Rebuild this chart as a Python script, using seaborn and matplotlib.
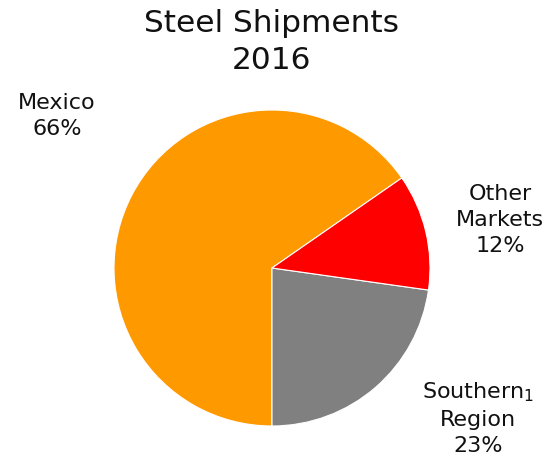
import matplotlib
matplotlib.use("Agg")
import matplotlib.pyplot as plt
import seaborn as sns

regions = ["Mexico", "Southern$_1$\nRegion", "Other\nMarkets"]
shares = [66, 23, 12]
share_labels = ["66%", "23%", "12%"]
colors = ["#FF9900", "#808080", "#FF0000"]

sns.set_theme(style="white")
plt.rcParams["font.family"] = ["DejaVu Sans"]

fig = plt.figure(figsize=(5.56, 4.59), dpi=100)
W, H = 556, 459
cx, cy, r = 272, 268, 158
ax = fig.add_axes([(cx - r) / W, (H - cy - r) / H, 2 * r / W, 2 * r / H])

mexico_angle = 360 * shares[0] / sum(shares)
wedges, _ = ax.pie(
    shares,
    colors=colors,
    startangle=270 - mexico_angle,
    counterclock=True,
    wedgeprops={"edgecolor": "white", "linewidth": 0.8},
)
ax.set_xlim(-1, 1)
ax.set_ylim(-1, 1)
ax.axis("off")

label_pos = [(57, 116), (478, 418), (500, 220)]
for name, pct, (px, py) in zip(regions, share_labels, label_pos):
    ax.text(
        (px - cx) / r,
        (cy - py) / r,
        f"{name}\n{pct}",
        ha="center",
        va="center",
        fontsize=16,
        color="#111111",
        linespacing=1.37,
        clip_on=False,
    )

fig.text(272 / W, 1 - 42 / H, "Steel Shipments\n2016", ha="center", va="center",
         fontsize=22.5, color="#111111", linespacing=1.36)

fig.savefig("out.png", dpi=100)
